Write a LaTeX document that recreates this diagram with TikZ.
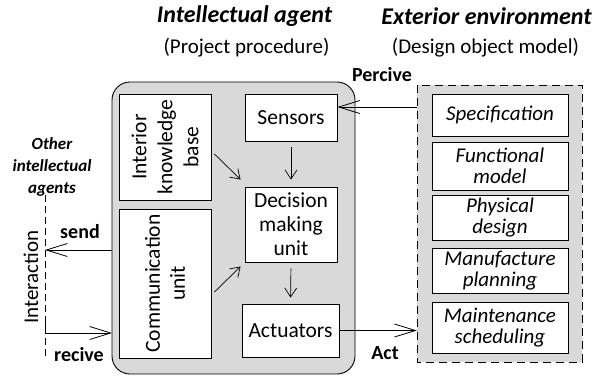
\documentclass[tikz,border=0pt]{standalone}
\usepackage{fontspec}
\setmainfont{Carlito}
\usetikzlibrary{arrows.meta,calc}
\definecolor{boxgray}{RGB}{217,217,217}
\begin{document}
\begin{tikzpicture}[x={(1pt,0)},y={(0,-1pt)},
  inner/.style={draw=black,fill=white,line width=0.9pt,align=center,inner sep=1pt,font=\fontsize{21.5}{24}\selectfont},
  envbox/.style={inner,font=\fontsize{21}{21.5}\selectfont\itshape,minimum width=136pt},
  bigtip/.style={-{Straight Barb[length=21pt,width=13pt,line width=0.8pt]},line width=0.8pt},
  smalltip/.style={-{Straight Barb[length=9pt,width=12pt,line width=0.7pt]},line width=0.7pt},
  lbl/.style={font=\fontsize{20}{22}\selectfont\bfseries,inner sep=0pt},
  head/.style={font=\fontsize{24}{26}\selectfont\bfseries\itshape,inner sep=0pt},
  sub/.style={font=\fontsize{21}{22}\selectfont,inner sep=0pt},
  rot/.style={rotate=90,align=center,font=\fontsize{21.5}{26}\selectfont}]
\useasboundingbox[fill=white] (0,0) rectangle (593,376);
% agent box
\draw[fill=boxgray,line width=0.9pt,rounded corners=18pt] (112,82) rectangle (355,374);
\coordinate (agW) at (112,250);
% exterior box
\draw[fill=boxgray,line width=0.8pt,dash pattern=on 8pt off 5pt] (417,85) rectangle (582,362);
\node[inner sep=0,minimum width=165pt,minimum height=277pt] (ext) at (499.5,223.5) {};
% agent inner nodes
\node[inner,minimum width=92pt,minimum height=106pt] (kb) at (165,147) {};
\node[rot] at (kb.center) {Interior\\knowledge\\base};
\node[inner,minimum width=92pt,minimum height=149pt] (comm) at (165,283.5) {};
\node[rot,font=\fontsize{21.5}{25}\selectfont] at (comm.center) {Communication\\unit};
\node[inner,minimum width=92pt,minimum height=47pt] (sens) at (291,117.5) {Sensors};
\node[inner,minimum width=92pt,minimum height=75pt] (dec) at (291,224.5) {Decision\\making\\unit};
\node[inner,minimum width=97pt,minimum height=53pt] (act) at (290.5,330.5) {Actuators};
% environment nodes
\node[envbox,minimum height=42pt] (spec) at (500,115) {Specification};
\node[envbox,minimum height=48pt] (func) at (500,166) {Functional\\model};
\node[envbox,minimum height=45pt] (phys) at (500,217.5) {Physical\\design};
\node[envbox,minimum height=45pt] (manu) at (500,270.5) {Manufacture\\planning};
\node[envbox,minimum height=51pt] (main) at (500,327.5) {Maintenance\\scheduling};
% internal arrows
\draw[smalltip,shorten <=6pt,shorten >=7pt] (sens.south) -- (dec.north);
\draw[smalltip,shorten <=6pt,shorten >=6pt] (dec.south) -- (act.north);
\draw[smalltip] ($(kb.east)+(3,7)$) -- ($(dec.north west)+(-4,-7)$);
\draw[smalltip] ($(comm.east)+(3,8.5)$) -- ($(dec.south west)+(-4,4)$);
% perceive / act
\coordinate (pc) at (0,107);
\draw[bigtip] (ext.west |- pc) -- (sens.east |- pc);
\draw[bigtip,line width=1.6pt] (act.east) -- (ext.west |- act.east);
% interaction
\coordinate (i1) at (45,195);
\coordinate (i2) at (45,357);
\draw[line width=0.8pt,dash pattern=on 7pt off 4pt] (i1) -- (i2);
\coordinate (sy) at (0,250);
\coordinate (ry) at (0,333);
\coordinate (rs) at (45,323);
\draw[bigtip] (agW) -- (i1 |- sy);
\draw[bigtip] (rs) -- (i1 |- ry) -- (agW |- ry);
% labels
\node[head] (h1) at (244.5,16) {Intellectual agent};
\node[sub] (s1) at (246.5,48) {(Project procedure)};
\node[head] (h2) at (486.5,16) {Exterior environment};
\node[sub] (s2) at (485.5,48) {(Design object model)};
\node[lbl] (lp) at (382,75) {Percive};
\node[lbl] (la) at (385,353) {Act};
\node[lbl] (ls) at (80,232) {send};
\node[lbl] (lr) at (79,355) {recive};
\node[align=center,font=\fontsize{17}{22}\selectfont\bfseries\itshape,inner sep=0pt] (oth) at (52,167) {Other\\intellectual\\agents};
\node[rotate=90,font=\fontsize{21}{22}\selectfont,inner sep=0pt] (inter) at (31,277) {Interaction};
\end{tikzpicture}
\end{document}
